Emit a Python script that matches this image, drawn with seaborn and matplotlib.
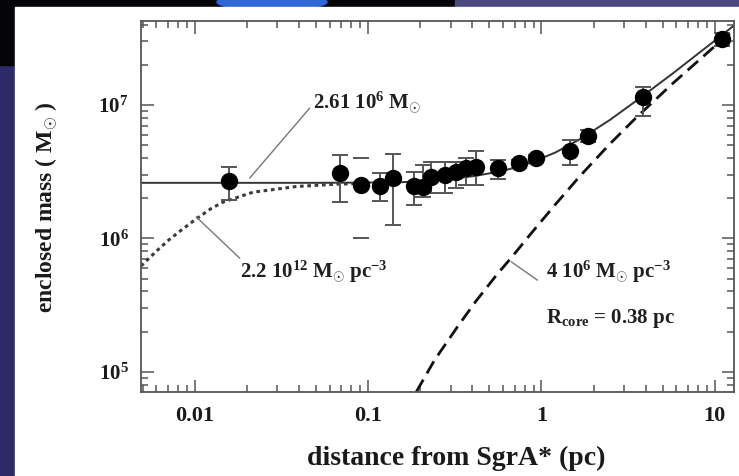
import numpy as np
import pandas as pd
import matplotlib
matplotlib.use("Agg")
import matplotlib.pyplot as plt
import seaborn as sns
from matplotlib.patches import Rectangle, Ellipse
from matplotlib.ticker import LogLocator, NullFormatter

# ---------------- data ----------------
dist_pc = [0.0158, 0.0692, 0.0914, 0.1175, 0.140, 0.185, 0.207, 0.231, 0.276,
           0.322, 0.368, 0.421, 0.560, 0.740, 0.932, 1.46, 1.85, 3.84, 11.0]
mass = [2.69e6, 3.07e6, 2.51e6, 2.47e6, 2.82e6, 2.47e6, 2.44e6, 2.90e6, 2.99e6,
        3.16e6, 3.35e6, 3.45e6, 3.35e6, 3.65e6, 3.98e6, 4.54e6, 5.85e6, 1.14e7, 3.11e7]
mass_hi = [3.41e6, 4.22e6, 3.98e6, 3.08e6, 4.28e6, 3.16e6, 3.55e6, 3.73e6, 3.76e6,
           3.76e6, 4.00e6, 4.54e6, 3.87e6, 3.90e6, 4.20e6, 5.46e6, 6.50e6, 1.36e7, 3.48e7]
mass_lo = [1.94e6, 1.88e6, 1.00e6, 1.91e6, 1.26e6, 1.78e6, 2.05e6, 2.19e6, 2.19e6,
           2.38e6, 2.51e6, 2.51e6, 2.79e6, 3.40e6, 3.75e6, 3.55e6, 5.30e6, 8.26e6, 2.77e7]
caps_only = [2]   # this point shows only the caps in the reference

# total model (point mass + stellar cluster), solid line
total_x = [0.0049, 0.05, 0.15, 0.25, 0.33, 0.42, 0.55, 0.68, 0.87, 1.2, 1.65,
           2.47, 3.5, 5.7, 9.7, 12.9]
total_y = [2.61e6, 2.61e6, 2.63e6, 2.73e6, 2.83e6, 2.95e6, 3.14e6, 3.35e6, 3.70e6,
           4.40e6, 5.50e6, 7.70e6, 1.07e7, 1.72e7, 2.95e7, 3.95e7]

# dark cluster model 2.2e12 Msun/pc^3, dotted line
dark_x = [0.0049, 0.006, 0.007, 0.0082, 0.0102, 0.0125, 0.01456, 0.0217, 0.0386,
          0.0656, 0.10, 0.15]
dark_y = [6.2e5, 8.0e5, 9.6e5, 1.13e6, 1.40e6, 1.68e6, 1.87e6, 2.22e6, 2.45e6,
          2.55e6, 2.59e6, 2.61e6]

# stellar cluster 4e6 Msun/pc^3, Rcore 0.38 pc, dashed line
clus_x = [0.19, 0.2415, 0.33, 0.421, 0.55, 0.684, 0.872, 1.2, 1.655, 2.466,
          3.515, 5.71, 9.7, 12.9]
clus_y = [7.08e4, 1.22e5, 2.2e5, 3.41e5, 5.3e5, 7.4e5, 1.09e6, 1.79e6, 2.9e6,
          5.07e6, 8.04e6, 1.45e7, 2.67e7, 3.68e7]

x_ticks = [0.01, 0.1, 1, 10]
x_ticklabels = ["0.01", "0.1", "1", "10"]
y_ticks = [1e5, 1e6, 1e7]
y_ticklabels = ["10$^{5}$", "10$^{6}$", "10$^{7}$"]

# ---------------- style ----------------
sns.set_theme(style="ticks")
plt.rcParams["font.family"] = ["Liberation Serif", "DejaVu Serif"]
plt.rcParams["font.weight"] = "bold"
plt.rcParams["mathtext.fontset"] = "custom"
plt.rcParams["mathtext.rm"] = "Liberation Serif:bold"
plt.rcParams["mathtext.bf"] = "Liberation Serif:bold"
plt.rcParams["mathtext.it"] = "Liberation Serif:bold:italic"

W, H = 739, 476
fig = plt.figure(figsize=(W / 100, H / 100), dpi=100)
fig.patch.set_facecolor("#2c2b68")

def fx(px):
    return px / W

def fy(py):
    return 1 - py / H

# slide frame
fig.add_artist(Rectangle((0, fy(7)), fx(455), 7 / H, transform=fig.transFigure,
                         color="#050508", zorder=-20))
fig.add_artist(Rectangle((fx(455), fy(7)), fx(W - 455), 7 / H, transform=fig.transFigure,
                         color="#4b4a80", zorder=-20))
fig.add_artist(Rectangle((0, fy(65)), fx(15), 65 / H, transform=fig.transFigure,
                         color="#050508", zorder=-20))
fig.add_artist(Ellipse((fx(272), fy(2)), fx(110), 16 / H, transform=fig.transFigure,
                       color="#2f66d8", zorder=-19))
fig.add_artist(Rectangle((fx(15), 0), fx(W - 15), fy(7), transform=fig.transFigure,
                         color="white", zorder=-18))

ax = fig.add_axes([fx(141), fy(391.7), fx(734) - fx(141), fy(21) - fy(391.7)])
ax.set_facecolor("white")
ax.set_xscale("log")
ax.set_yscale("log")

sns.lineplot(x=total_x, y=total_y, ax=ax, color="#333333", lw=1.4,
             estimator=None, sort=False)
sns.lineplot(x=dark_x, y=dark_y, ax=ax, color="#3a3a3a", lw=2.2,
             linestyle=(0, (1.2, 1.2)), estimator=None, sort=False)
sns.lineplot(x=clus_x, y=clus_y, ax=ax, color="#111111", lw=2.0,
             linestyle=(0, (5, 2.6)), estimator=None, sort=False)

m = np.array(mass)
lo = np.array(mass_lo)
hi = np.array(mass_hi)
d = np.array(dist_pc)
full = np.array([i not in caps_only for i in range(len(mass))])
ax.errorbar(d[full], m[full], yerr=[m[full] - lo[full], hi[full] - m[full]],
            fmt="none", ecolor="#555555", elinewidth=1.4, capsize=6,
            capthick=1.4, zorder=4)
ax.errorbar(d[~full], m[~full], yerr=[m[~full] - lo[~full], hi[~full] - m[~full]],
            fmt="none", ecolor="#555555", elinewidth=0, capsize=6,
            capthick=1.4, zorder=4)
sns.scatterplot(x=dist_pc, y=mass, ax=ax, s=12.5 ** 2, color="black",
                edgecolor="black", linewidth=0, zorder=5)

ax.set_xlim(0.0049, 12.9)
ax.set_ylim(7.08e4, 4.27e7)

ax.set_xticks(x_ticks)
ax.set_xticklabels(x_ticklabels)
ax.set_yticks(y_ticks)
ax.set_yticklabels(y_ticklabels)
ax.xaxis.set_minor_locator(LogLocator(base=10, subs=np.arange(2, 10), numticks=20))
ax.yaxis.set_minor_locator(LogLocator(base=10, subs=np.arange(2, 10), numticks=20))
ax.xaxis.set_minor_formatter(NullFormatter())
ax.yaxis.set_minor_formatter(NullFormatter())

ax.tick_params(which="both", direction="in", top=True, right=True,
               color="#555555", width=1.1)
ax.tick_params(which="major", length=9)
ax.tick_params(which="minor", length=5)
ax.tick_params(axis="x", which="major", pad=10, labelsize=16, labelcolor="#1a1a1a")
ax.tick_params(axis="y", which="major", pad=9, labelsize=15, labelcolor="#1a1a1a")
for lab in ax.get_xticklabels() + ax.get_yticklabels():
    lab.set_fontweight("bold")
for s in ax.spines.values():
    s.set_color("#555555")
    s.set_linewidth(1.3)
ax.set_xlabel("")
ax.set_ylabel("")

# annotations
ann_color = "#1f1f1f"
lead_color = "#777777"
ax.plot([0.02075, 0.0461], [2.83e6, 9.5e6], color=lead_color, lw=1.0, zorder=3)
ax.text(0.0479, 1.035e7, "2.61 10$^{6}$ M$_{\\odot}$", fontsize=15,
        fontweight="bold", color=ann_color, ha="left", va="center")
ax.plot([0.0102, 0.01816], [1.45e6, 7.11e5], color=lead_color, lw=1.0, zorder=3)
ax.text(0.0182, 5.59e5, "2.2 10$^{12}$ M$_{\\odot}$ pc$^{-3}$", fontsize=15,
        fontweight="bold", color=ann_color, ha="left", va="center")
ax.plot([0.669, 0.948], [6.68e5, 4.86e5], color=lead_color, lw=1.0, zorder=3)
ax.text(1.069, 5.59e5, "4 10$^{6}$ M$_{\\odot}$ pc$^{-3}$", fontsize=15,
        fontweight="bold", color=ann_color, ha="left", va="center")
ax.text(1.069, 2.52e5, "R$_{\\mathrm{core}}$ = 0.38 pc", fontsize=15,
        fontweight="bold", color=ann_color, ha="left", va="center")

fig.text(fx(456), fy(458), "distance from SgrA* (pc)", fontsize=20,
         fontweight="bold", color="#1a1a1a", ha="center", va="center")
fig.text(fx(47), fy(207), "enclosed mass ( M$_{\\odot}$ )", fontsize=17,
         fontweight="bold", color="#1a1a1a", ha="center", va="center",
         rotation=90)

fig.savefig("out.png", dpi=100, facecolor=fig.get_facecolor())
